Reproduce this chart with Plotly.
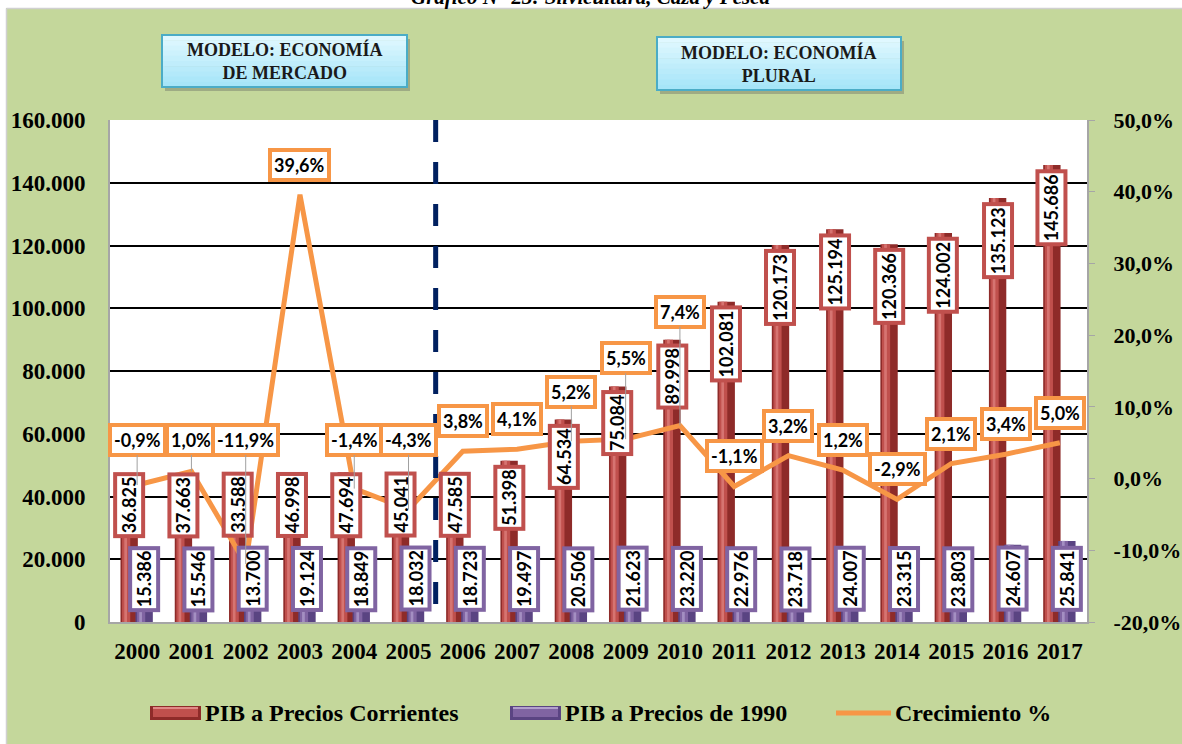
import plotly.graph_objects as go

# ---------------- data ----------------
years = [str(y) for y in range(2000, 2018)]
pib_corrientes = [36825, 37663, 33588, 46998, 47694, 45041, 47585, 51398, 64534,
                  75084, 89998, 102081, 120173, 125194, 120366, 124002, 135123, 145686]
pib_1990 = [15386, 15546, 13700, 19124, 18849, 18032, 18723, 19497, 20506,
            21623, 23220, 22976, 23718, 24007, 23315, 23803, 24607, 25841]
crecimiento = [-0.9, 1.0, -11.9, 39.6, -1.4, -4.3, 3.8, 4.1, 5.2, 5.5, 7.4,
               -1.1, 3.2, 1.2, -2.9, 2.1, 3.4, 5.0]
series_names = ["PIB a Precios Corrientes", "PIB a Precios de 1990", "Crecimiento %"]
left_ticks = [0, 20000, 40000, 60000, 80000, 100000, 120000, 140000, 160000]
right_ticks = [-20, -10, 0, 10, 20, 30, 40, 50]

# ---------------- layout geometry ----------------
W, H = 1182, 744
ML, MR, MT, MB = 110, 95, 120, 122
PW, PH = W - ML - MR, H - MT - MB
Y1MAX = 160000
Y2MIN, Y2MAX = -20, 50


def px2x(px):
    return (px - ML) / PW


def py2y(py):
    return (H - MB - py) / PH


def y1px(v):
    return H - MB - v / Y1MAX * PH


def y2px(p):
    return H - MB - (p - Y2MIN) / (Y2MAX - Y2MIN) * PH


def fmt_miles(v):
    return f"{v:,}".replace(",", ".")


def fmt_pct(p):
    return f"{p:.1f}".replace(".", ",") + "%"


GREEN = "#C4D79B"
RED = "#C0504D"
PURPLE = "#8064A2"
ORANGE = "#F79646"
BW = 0.32
RED_OFF = -0.307
PUR_OFF = -0.031

fig = go.Figure()


def add_bars(vals, off, base, mid, hi, name):
    fig.add_trace(go.Bar(x=years, y=vals, name=name, width=BW, offset=off,
                         marker=dict(color=base, line=dict(width=0)),
                         showlegend=False, hoverinfo="skip"))
    fig.add_trace(go.Bar(x=years, y=vals, width=0.15, offset=off + 0.03,
                         marker=dict(color=mid, line=dict(width=0)),
                         showlegend=False, hoverinfo="skip"))
    fig.add_trace(go.Bar(x=years, y=vals, width=0.05, offset=off + 0.07,
                         marker=dict(color=hi, line=dict(width=0)),
                         showlegend=False, hoverinfo="skip"))


add_bars(pib_corrientes, RED_OFF, "#8E2B29", RED, "#D67471", series_names[0])
add_bars(pib_1990, PUR_OFF, "#5A4482", PURPLE, "#A48FC2", series_names[1])

fig.add_trace(go.Scatter(x=years, y=crecimiento, name=series_names[2], yaxis="y2",
                         mode="lines", line=dict(color=ORANGE, width=5),
                         showlegend=False, hoverinfo="skip"))

annotations = []
LBL_FONT = dict(family="Lato", size=18, color="black", weight="bold")

red_boxes = []
for i, v in enumerate(pib_corrientes):
    txt = fmt_miles(v)
    ndig = sum(c.isdigit() for c in txt)
    est_h = 14 + 10.4 * ndig
    common = dict(x=i, xref="x", yref="y", xshift=-8, xanchor="center", text=txt,
                  textangle=-90, showarrow=False, font=LBL_FONT, bgcolor="white",
                  bordercolor=RED, borderwidth=4, borderpad=1)
    if y1px(v) + 4 + est_h > 538:
        annotations.append(dict(y=0, yshift=H - MB - 538, yanchor="bottom", **common))
        red_boxes.append((538 - est_h, 538))
    else:
        annotations.append(dict(y=v, yshift=-4, yanchor="top", **common))
        red_boxes.append((y1px(v) + 4, y1px(v) + 4 + est_h))

for i, v in enumerate(pib_1990):
    annotations.append(dict(x=i, y=0, xref="x", yref="y", xshift=7, yshift=10,
                            xanchor="center", yanchor="bottom", text=fmt_miles(v),
                            textangle=-90, showarrow=False, font=LBL_FONT, bgcolor="white",
                            bordercolor=PURPLE, borderwidth=4, borderpad=1))

for i, (g, (bt, bb)) in enumerate(zip(crecimiento, red_boxes)):
    pt = y2px(g)
    c = pt - 30
    if c + 17 > bt - 15 and c - 17 < bb:
        c = bt - 32
        annotations.append(dict(x=i, y=g, xref="x", yref="y2", ax=0, ay=c - pt,
                                axref="pixel", ayref="pixel", showarrow=True,
                                arrowhead=0, arrowwidth=1, arrowcolor="#A0A0A0",
                                text=fmt_pct(g), font=LBL_FONT, bgcolor="white",
                                bordercolor=ORANGE, borderwidth=4, borderpad=2))
    else:
        annotations.append(dict(x=i, y=g, xref="x", yref="y2", yshift=30,
                                xanchor="center", yanchor="middle",
                                showarrow=False, text=fmt_pct(g), font=LBL_FONT,
                                bgcolor="white", bordercolor=ORANGE, borderwidth=4,
                                borderpad=2))

# title (cut at the top edge, as in the reference)
annotations.append(dict(x=px2x(590), y=py2y(-3), xref="paper", yref="paper",
                        text="Gráfico N° 23: Silvicultura, Caza y Pesca", showarrow=False,
                        yanchor="middle", xanchor="center",
                        font=dict(family="Liberation Serif", size=21, color="black",
                                  weight="bold", style="italic")))

shapes = []
# white strips + grey borders
shapes.append(dict(type="rect", xref="paper", yref="paper", x0=px2x(0), x1=px2x(W),
                   y0=py2y(0), y1=py2y(8), fillcolor="white", line=dict(width=0), layer="below"))
shapes.append(dict(type="rect", xref="paper", yref="paper", x0=px2x(0), x1=px2x(6),
                   y0=py2y(0), y1=py2y(H), fillcolor="white", line=dict(width=0), layer="below"))
shapes.append(dict(type="line", xref="paper", yref="paper", x0=px2x(6.5), x1=px2x(W),
                   y0=py2y(8.5), y1=py2y(8.5), line=dict(color="#D0D0D0", width=1.5), layer="below"))
shapes.append(dict(type="line", xref="paper", yref="paper", x0=px2x(6.5), x1=px2x(6.5),
                   y0=py2y(8.5), y1=py2y(H), line=dict(color="#D0D0D0", width=1.5), layer="below"))


def model_box(x0, y0, x1, y1, text):
    shapes.append(dict(type="rect", xref="paper", yref="paper", x0=px2x(x0 + 3), x1=px2x(x1 + 3),
                       y0=py2y(y0 + 4), y1=py2y(y1 + 4), fillcolor="rgba(90,90,90,0.35)",
                       line=dict(width=0)))
    n = 10
    top = (224, 248, 255)
    bot = (166, 229, 248)
    for k in range(n):
        t = k / (n - 1)
        col = tuple(round(top[j] + (bot[j] - top[j]) * t) for j in range(3))
        ya = y0 + (y1 - y0) * k / n
        yb = y0 + (y1 - y0) * (k + 1) / n
        shapes.append(dict(type="rect", xref="paper", yref="paper", x0=px2x(x0), x1=px2x(x1),
                           y0=py2y(ya), y1=py2y(min(yb + 0.5, y1)),
                           fillcolor="rgb(%d,%d,%d)" % col, line=dict(width=0)))
    shapes.append(dict(type="rect", xref="paper", yref="paper", x0=px2x(x0), x1=px2x(x1),
                       y0=py2y(y0), y1=py2y(y1), fillcolor="rgba(0,0,0,0)",
                       line=dict(color="#4BACC6", width=2)))
    annotations.append(dict(x=px2x((x0 + x1) / 2), y=py2y((y0 + y1) / 2), xref="paper",
                            yref="paper", text=text, showarrow=False,
                            xanchor="center", yanchor="middle",
                            font=dict(family="Liberation Serif", size=18, color="#1A1A1A",
                                      weight="bold")))


model_box(162, 35, 407, 87, "MODELO: ECONOMÍA<br>DE MERCADO")
model_box(657, 37, 901, 90, "MODELO: ECONOMÍA<br>PLURAL")

# dashed separator between 2005 and 2006 (starting with a dash at the top)
shapes.append(dict(type="line", xref="x", yref="paper", x0=5.5, x1=5.5, y0=1, y1=0,
                   line=dict(color="#002060", width=5, dash="22px,20px"), layer="above"))

# custom legend (wide 3-D style symbols as in the reference)
LEG_Y = 713
LEG_FONT = dict(family="Liberation Serif", size=24, color="black", weight="bold")


def legend_bar(x0, fill, dark, light, label):
    x1 = x0 + 51
    shapes.append(dict(type="rect", xref="paper", yref="paper", x0=px2x(x0), x1=px2x(x1),
                       y0=py2y(LEG_Y - 7), y1=py2y(LEG_Y + 7), fillcolor=dark,
                       line=dict(width=0)))
    shapes.append(dict(type="rect", xref="paper", yref="paper", x0=px2x(x0 + 3), x1=px2x(x1 - 3),
                       y0=py2y(LEG_Y - 6), y1=py2y(LEG_Y + 4), fillcolor=fill,
                       line=dict(width=0)))
    shapes.append(dict(type="rect", xref="paper", yref="paper", x0=px2x(x0 + 3), x1=px2x(x1 - 3),
                       y0=py2y(LEG_Y - 6), y1=py2y(LEG_Y - 4), fillcolor=light,
                       line=dict(width=0)))
    annotations.append(dict(x=px2x(x1 + 2), y=py2y(LEG_Y), xref="paper", yref="paper",
                            text=label, showarrow=False, xanchor="left", yanchor="middle",
                            font=LEG_FONT))


legend_bar(150, RED, "#8E2B29", "#E08A87", series_names[0])
legend_bar(510, PURPLE, "#5A4482", "#B2A0CC", series_names[1])
shapes.append(dict(type="line", xref="paper", yref="paper", x0=px2x(836), x1=px2x(891),
                   y0=py2y(LEG_Y), y1=py2y(LEG_Y), line=dict(color=ORANGE, width=5)))
annotations.append(dict(x=px2x(893), y=py2y(LEG_Y), xref="paper", yref="paper",
                        text=series_names[2], showarrow=False, xanchor="left",
                        yanchor="middle", font=LEG_FONT))

AXFONT = dict(family="Liberation Serif", size=23, color="black", weight="bold")
AXFONT_R = dict(family="Liberation Serif", size=22, color="black", weight="bold")

fig.update_layout(
    width=W, height=H,
    margin=dict(l=ML, r=MR, t=MT, b=MB, autoexpand=False),
    paper_bgcolor=GREEN, plot_bgcolor="white",
    separators=",.",
    barmode="overlay",
    showlegend=False,
    xaxis=dict(type="category", categoryorder="array", categoryarray=years,
               range=[-0.5, 17.5], showgrid=False, showline=True, linecolor="#A6A6A6",
               linewidth=2, ticks="", ticklabelstandoff=7, tickfont=AXFONT, fixedrange=True),
    yaxis=dict(range=[0, Y1MAX], tickvals=left_ticks,
               ticktext=[fmt_miles(v) for v in left_ticks], showgrid=True,
               gridcolor="black", gridwidth=1.5, zeroline=False, showline=True,
               linecolor="#A6A6A6", linewidth=2, ticks="", ticklabelstandoff=18,
               tickfont=AXFONT, fixedrange=True),
    yaxis2=dict(range=[Y2MIN, Y2MAX], tickvals=right_ticks,
                ticktext=[fmt_pct(v) for v in right_ticks],
                overlaying="y", side="right", showgrid=False, zeroline=False,
                showline=True, linecolor="#A6A6A6", linewidth=2, ticks="outside",
                ticklen=6, tickcolor="#A6A6A6", ticklabelstandoff=14, tickfont=AXFONT_R,
                fixedrange=True),
    annotations=annotations,
    shapes=shapes,
)

fig.write_html("out.html", config={"displayModeBar": False},
               post_script="document.body.style.margin='0';document.body.style.overflow='hidden';")
